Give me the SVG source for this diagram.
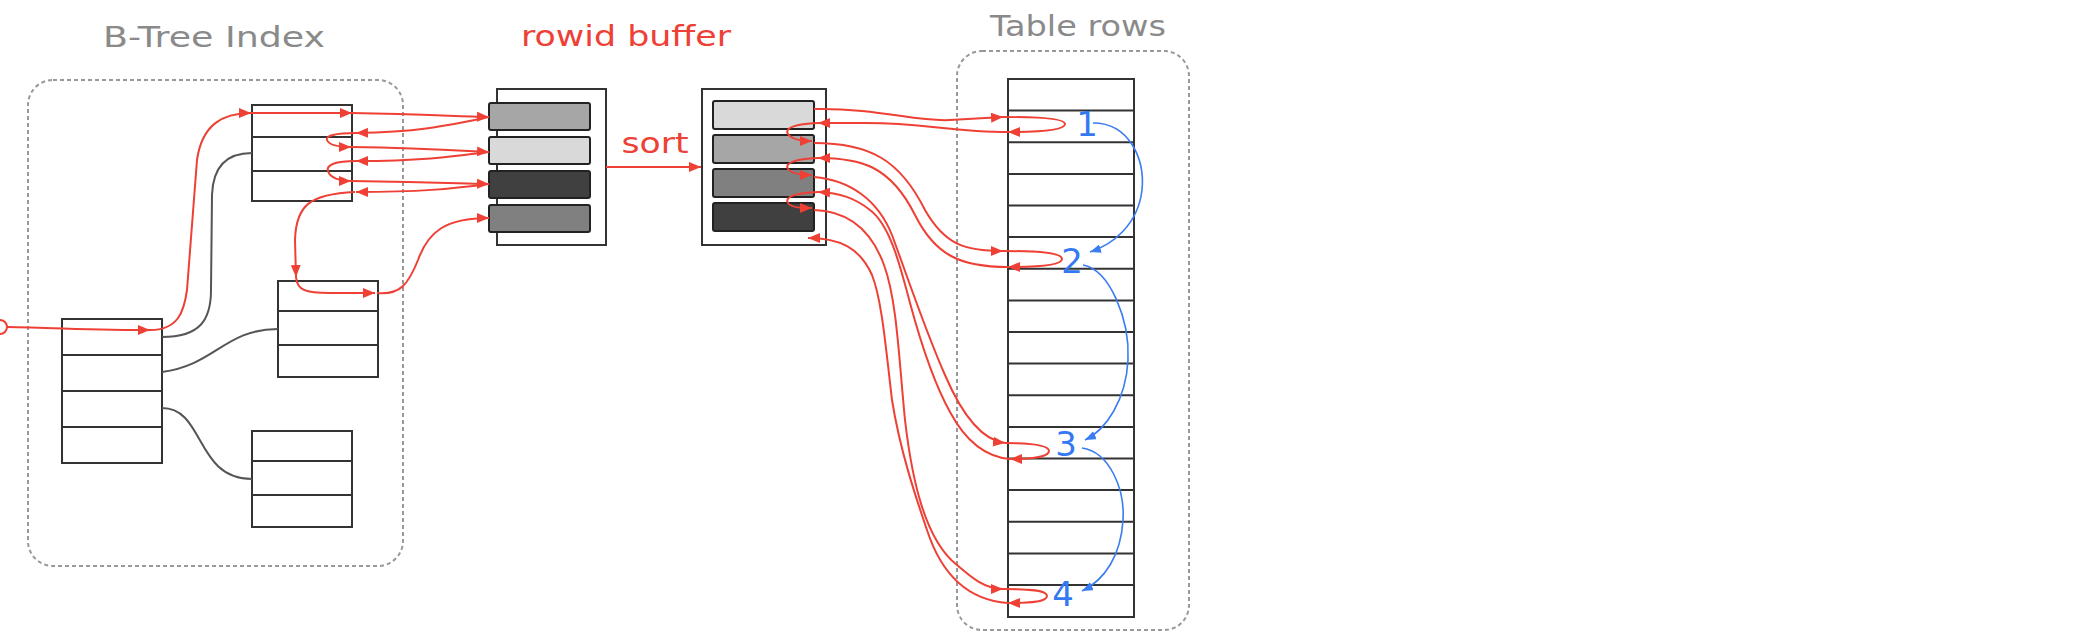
<svg xmlns="http://www.w3.org/2000/svg" width="2080" height="636" viewBox="0 0 2080 636">
<defs>
<style>
.lbl{font-family:"DejaVu Sans","Liberation Sans",sans-serif;font-size:29px;text-anchor:middle}
.gray{fill:#8a8a8a}
.redt{fill:#ee4035}
.num{font-family:"DejaVu Sans","Liberation Sans",sans-serif;font-size:34px;fill:#3478f2;text-anchor:middle}
.cont{fill:none;stroke:#999;stroke-width:2;stroke-dasharray:4 3}
.box{fill:#fff;stroke:#333;stroke-width:2}
.div{stroke:#333;stroke-width:2}
.slot{stroke:#222;stroke-width:2}
.g{fill:none;stroke:#555;stroke-width:2}
.r{fill:none;stroke:#ee4035;stroke-width:2;marker-end:url(#ra)}
.b{fill:none;stroke:#3a7cf2;stroke-width:1.6;marker-end:url(#ba)}
</style>
<marker id="ra" viewBox="0 0 12 10" refX="12" refY="5" markerWidth="12" markerHeight="10" markerUnits="userSpaceOnUse" orient="auto"><path d="M0,0 L12,5 L0,10 z" fill="#ee4035"/></marker>
<marker id="ba" viewBox="0 0 10 8" refX="10" refY="4" markerWidth="11" markerHeight="9" markerUnits="userSpaceOnUse" orient="auto"><path d="M0,0 L10,4 L0,8 z" fill="#3a7cf2"/></marker>
</defs>
<rect width="2080" height="636" fill="#fff"/>

<g id="btree-index">
<text class="lbl gray" x="214" y="47" textLength="222" lengthAdjust="spacingAndGlyphs">B-Tree Index</text>
<rect class="cont" x="28" y="80" width="375" height="486" rx="25"/>
</g>
<g id="table-rows-container">
<text class="lbl gray" x="1078" y="36" textLength="176" lengthAdjust="spacingAndGlyphs">Table rows</text>
<rect class="cont" x="957" y="51" width="232" height="579" rx="25"/>
</g>
<g id="rowid-buffer-label">
<text class="lbl redt" x="626" y="46" textLength="210" lengthAdjust="spacingAndGlyphs">rowid buffer</text>
</g>

<g id="root-node">
<rect class="box" x="62" y="319" width="100" height="144"/>
<line class="div" x1="62" y1="355" x2="162" y2="355"/>
<line class="div" x1="62" y1="391" x2="162" y2="391"/>
<line class="div" x1="62" y1="427" x2="162" y2="427"/>
</g>
<g id="leaf-node-1">
<rect class="box" x="252" y="105" width="100" height="96"/>
<line class="div" x1="252" y1="137" x2="352" y2="137"/>
<line class="div" x1="252" y1="171" x2="352" y2="171"/>
</g>
<g id="leaf-node-2">
<rect class="box" x="278" y="281" width="100" height="96"/>
<line class="div" x1="278" y1="311" x2="378" y2="311"/>
<line class="div" x1="278" y1="345" x2="378" y2="345"/>
</g>
<g id="leaf-node-3">
<rect class="box" x="252" y="431" width="100" height="96"/>
<line class="div" x1="252" y1="461" x2="352" y2="461"/>
<line class="div" x1="252" y1="495" x2="352" y2="495"/>
</g>

<g id="buffer-unsorted">
<rect class="box" x="497" y="89" width="109" height="156"/>
<rect class="slot" x="489" y="103" width="101" height="27" rx="2" fill="#a6a6a6"/>
<rect class="slot" x="489" y="137" width="101" height="27" rx="2" fill="#d9d9d9"/>
<rect class="slot" x="489" y="171" width="101" height="27" rx="2" fill="#404040"/>
<rect class="slot" x="489" y="205" width="101" height="27" rx="2" fill="#808080"/>
</g>
<g id="buffer-sorted">
<rect class="box" x="702" y="89" width="124" height="156"/>
<rect class="slot" x="713" y="101" width="101" height="28" rx="2" fill="#d9d9d9"/>
<rect class="slot" x="713" y="135" width="101" height="28" rx="2" fill="#a6a6a6"/>
<rect class="slot" x="713" y="169" width="101" height="28" rx="2" fill="#808080"/>
<rect class="slot" x="713" y="203" width="101" height="28" rx="2" fill="#404040"/>
</g>

<g id="table">
<rect class="box" x="1008" y="79" width="126" height="538"/>
<g class="div">
<line x1="1008" y1="110.6" x2="1134" y2="110.6"/>
<line x1="1008" y1="142.3" x2="1134" y2="142.3"/>
<line x1="1008" y1="173.9" x2="1134" y2="173.9"/>
<line x1="1008" y1="205.5" x2="1134" y2="205.5"/>
<line x1="1008" y1="237.1" x2="1134" y2="237.1"/>
<line x1="1008" y1="268.8" x2="1134" y2="268.8"/>
<line x1="1008" y1="300.4" x2="1134" y2="300.4"/>
<line x1="1008" y1="332" x2="1134" y2="332"/>
<line x1="1008" y1="363.6" x2="1134" y2="363.6"/>
<line x1="1008" y1="395.3" x2="1134" y2="395.3"/>
<line x1="1008" y1="426.9" x2="1134" y2="426.9"/>
<line x1="1008" y1="458.5" x2="1134" y2="458.5"/>
<line x1="1008" y1="490.1" x2="1134" y2="490.1"/>
<line x1="1008" y1="521.8" x2="1134" y2="521.8"/>
<line x1="1008" y1="553.4" x2="1134" y2="553.4"/>
<line x1="1008" y1="585" x2="1134" y2="585"/>
</g>
<text class="num" x="1087" y="136">1</text>
<text class="num" x="1072" y="273">2</text>
<text class="num" x="1066" y="456">3</text>
<text class="num" x="1063" y="606">4</text>
</g>

<g id="connectors">
<path class="g" d="M162,337 C200,337 211,320 211,290 L212,195 C213,165 228,153 252,153"/>
<path class="g" d="M162,372 C215,365 225,329 278,329"/>
<path class="g" d="M162,408 C205,408 195,479 252,479"/>
<circle cx="0" cy="327" r="7" fill="none" stroke="#ee4035" stroke-width="2"/>
<path class="r" d="M7,327 C60,328 100,330 150,330"/>
<path class="r" d="M150,330 C178,330 184,312 187,290 L197,160 C202,125 222,113 251,113"/>
<path class="r" d="M251,113 L352,113"/>
<path class="r" d="M352,113 C420,114 450,116 489,117"/>
<path class="r" d="M489,117 C450,125 420,132 356,133"/>
<path class="r" d="M356,133 C335,133 325,136 327,140 C329,145 340,147 351,147"/>
<path class="r" d="M351,147 C420,148 450,150 489,152"/>
<path class="r" d="M489,152 C450,157 420,161 356,161"/>
<path class="r" d="M356,161 C335,161 326,165 328,171 C330,178 340,181 351,181"/>
<path class="r" d="M351,181 C420,182 450,183 489,184"/>
<path class="r" d="M489,184 C450,189 420,192 356,192"/>
<path class="r" d="M355,192 C310,194 296,205 295,240 L296,277"/>
<path class="r" d="M296,277 C297,290 305,293 330,293 L375,293"/>
<path class="r" d="M377,293 C400,295 408,285 418,260 C428,232 445,218 489,218"/>
<text class="lbl redt" x="655" y="153" textLength="67" lengthAdjust="spacingAndGlyphs">sort</text>
<path class="r" d="M606,167 L701,167"/>
<path class="r" d="M814,109 C880,108 915,122 950,120 L1003,117"/>
<path class="r" d="M1003,117 C1040,117 1065,119 1065,124 C1065,130 1040,132 1008,132"/>
<path class="r" d="M1008,132 C950,132 920,122 860,123 L818,123"/>
<path class="r" d="M818,123 C795,124 784,128 788,134 C792,140 802,141 812,141"/>
<path class="r" d="M814,143 C870,143 900,160 925,210 C945,245 965,251 1003,251"/>
<path class="r" d="M1003,251 C1040,251 1062,253 1062,259 C1062,265 1040,267 1008,267"/>
<path class="r" d="M1008,267 C960,267 935,255 915,215 C890,165 860,158 818,158"/>
<path class="r" d="M818,158 C795,159 784,163 788,169 C792,174 802,175 812,175"/>
<path class="r" d="M814,177 C850,180 878,200 892,235 C905,270 925,330 945,375 C960,410 980,440 1005,443"/>
<path class="r" d="M1005,443 C1030,443 1049,445 1049,451 C1049,457 1030,459 1010,459"/>
<path class="r" d="M1010,459 C985,457 965,440 950,412 C935,385 920,340 910,303 C900,265 890,225 870,210 C855,198 840,193 818,192"/>
<path class="r" d="M818,192 C795,193 784,197 788,203 C792,208 802,208 812,208"/>
<path class="r" d="M814,210 C850,211 872,232 884,265 C897,300 899,360 905,420 C912,480 925,540 957,565 C972,578 985,589 1003,589"/>
<path class="r" d="M1003,589 C1030,589 1047,590 1047,596 C1047,602 1030,603 1008,603"/>
<path class="r" d="M1008,603 C965,600 940,570 927,530 C915,495 900,450 892,400 C886,350 882,300 872,275 C860,248 840,238 808,238"/>
<path class="b" d="M1093,123 C1130,123 1145,160 1142,190 C1138,225 1112,245 1090,252"/>
<path class="b" d="M1083,265 C1110,270 1130,320 1128,360 C1126,400 1106,430 1085,440"/>
<path class="b" d="M1082,448 C1110,452 1125,490 1123,520 C1121,555 1105,580 1082,591"/>
</g>
</svg>
